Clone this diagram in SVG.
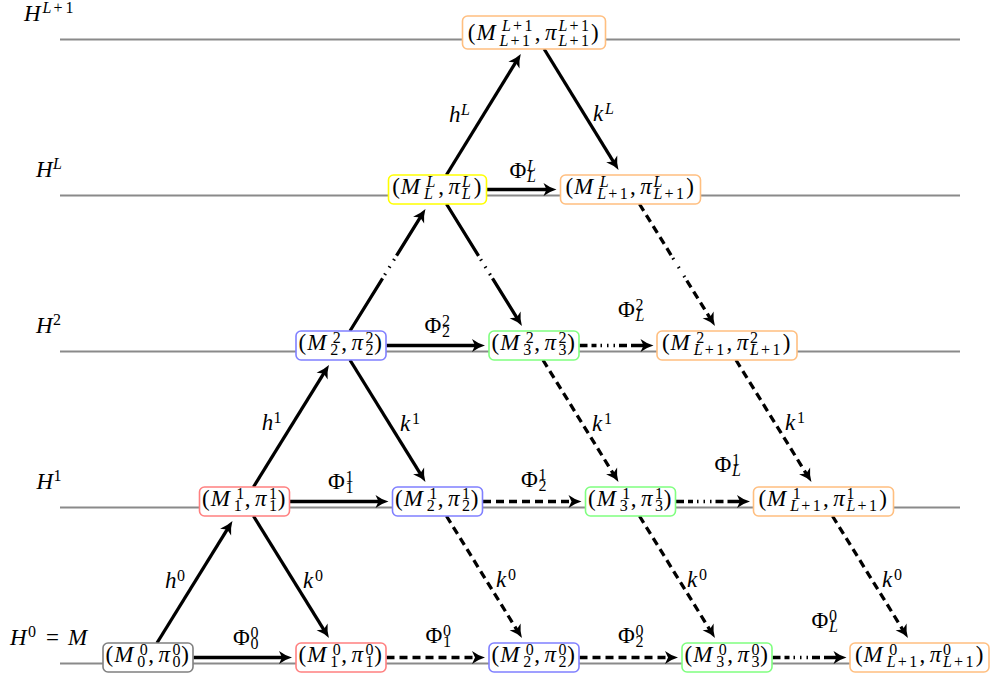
<svg xmlns="http://www.w3.org/2000/svg" width="990" height="682" viewBox="0 0 990 682">
<style>
text{font-family:"Liberation Serif","Times New Roman",serif;font-size:23px;fill:#000}
.i{font-style:italic}
.s{font-size:16px}
.si{font-size:16px;font-style:italic}
.lv{stroke:#8a8a8a;stroke-width:1.8;fill:none}
.bx{fill:#fff;stroke-width:1.6}
.gy{stroke:#808080}.rd{stroke:#ff8080}.bl{stroke:#8080ff}.gr{stroke:#80ff80}.or{stroke:#ffbf80}.ye{stroke:#ffff00}
.a{stroke:#000;stroke-width:3.3;fill:none;marker-end:url(#ah)}
.d{stroke-dasharray:8 5}
.c{stroke-dasharray:8 4 5 4 1.5 5 1.5 5 1.5 4 8 4 40}
</style>
<defs>
<marker id="ah" viewBox="-9 -8 18 16" refX="0" refY="0" markerWidth="18" markerHeight="16" markerUnits="userSpaceOnUse" orient="auto">
<path d="M6,0 Q-1,-2 -7,-6.5 L-4,0 L-7,6.5 Q-1,2 6,0 Z" fill="#000"/>
</marker>
</defs>
<g id="levels">
<line class="lv" x1="60" y1="39.5" x2="960" y2="39.5"/>
<line class="lv" x1="60" y1="195.5" x2="960" y2="195.5"/>
<line class="lv" x1="60" y1="351.5" x2="960" y2="351.5"/>
<line class="lv" x1="60" y1="507.5" x2="960" y2="507.5"/>
<line class="lv" x1="60" y1="663.5" x2="960" y2="663.5"/>
<text><tspan class="i" x="24" y="20.5">H</tspan><tspan class="si" x="42.5" y="12.5">L</tspan><tspan class="s" x="53.5" y="12.5">+</tspan><tspan class="s" x="65.5" y="12.5">1</tspan></text>
<text><tspan class="i" x="36" y="176.5">H</tspan><tspan class="si" x="53" y="169">L</tspan></text>
<text><tspan class="i" x="36" y="332.5">H</tspan><tspan class="s" x="53" y="325">2</tspan></text>
<text><tspan class="i" x="36.5" y="488.5">H</tspan><tspan class="s" x="53.5" y="481">1</tspan></text>
<text><tspan class="i" x="10" y="644.5">H</tspan><tspan class="s" x="28" y="637">0</tspan><tspan x="46" y="644.5">=</tspan><tspan class="i" x="68" y="644.5">M</tspan></text>
</g>
<g id="connectors">
<path class="a" d="M156.97,643 L229.28,526.10"/>
<path class="a" d="M253.47,516 L325.78,632.90"/>
<path class="a" d="M253.47,487 L325.78,370.10"/>
<path class="a" d="M349.97,360 L422.28,476.90"/>
<path class="a" d="M446.41,175 L517.64,59.11"/>
<path class="a" d="M544.14,49 L615.38,164.89"/>
<path class="a" d="M193.5,657.5 H286"/>
<path class="a" d="M290,501.5 H382.5"/>
<path class="a" d="M386.5,345.5 H479"/>
<path class="a" d="M487,189.5 H550.5"/>
<path class="a" style="stroke-dasharray:62 4 1.5 7 1.5 7 1.5 4 200" d="M349.97,331 L422.28,214.10"/>
<path class="a" style="stroke-dasharray:61 4 1.5 7 1.5 7 1.5 4 200" d="M446.47,204 L518.78,320.90"/>
<path class="a d" d="M386.5,657.5 H479"/>
<path class="a d" d="M579.5,657.5 H672"/>
<path class="a d" d="M483,501.5 H575.5"/>
<path class="a d" d="M446.47,516 L518.78,632.90"/>
<path class="a d" d="M639.47,516 L711.78,632.90"/>
<path class="a d" d="M832.47,516 L904.78,632.90"/>
<path class="a d" d="M542.97,360 L615.28,476.90"/>
<path class="a d" d="M735.97,360 L808.28,476.90"/>
<path class="a c" d="M579.5,345.5 H647.5"/>
<path class="a c" d="M676,501.5 H744"/>
<path class="a c" d="M772.5,657.5 H840.5"/>
<path class="a" style="stroke-dasharray:8 5 8 5 8 5 8 5 8 3.5 1.5 9 1.5 9 1.5 4 8 5 8 5 8 5 40" d="M639.47,204 L711.78,320.90"/>
<text><tspan class="i" x="165" y="588">h</tspan><tspan class="s" x="177" y="581">0</tspan></text>
<text><tspan class="i" x="303" y="588">k</tspan><tspan class="s" x="315" y="581">0</tspan></text>
<text><tspan class="i" x="261.7" y="430">h</tspan><tspan class="s" x="273.5" y="423">1</tspan></text>
<text><tspan class="i" x="400" y="431">k</tspan><tspan class="s" x="412" y="424">1</tspan></text>
<text><tspan class="i" x="449" y="122">h</tspan><tspan class="si" x="461" y="115">L</tspan></text>
<text><tspan class="i" x="593" y="121">k</tspan><tspan class="si" x="605" y="114">L</tspan></text>
<text><tspan class="i" x="496" y="587">k</tspan><tspan class="s" x="508" y="580">0</tspan></text>
<text><tspan class="i" x="687" y="587">k</tspan><tspan class="s" x="699" y="580">0</tspan></text>
<text><tspan class="i" x="882" y="587">k</tspan><tspan class="s" x="894" y="580">0</tspan></text>
<text><tspan class="i" x="592" y="431">k</tspan><tspan class="s" x="604" y="424">1</tspan></text>
<text><tspan class="i" x="785" y="430">k</tspan><tspan class="s" x="797" y="423">1</tspan></text>
<text><tspan x="233" y="645">Φ</tspan><tspan class="s" x="250.5" y="638">0</tspan><tspan class="s" x="250.5" y="649">0</tspan></text>
<text><tspan x="328" y="489">Φ</tspan><tspan class="s" x="345.5" y="482">1</tspan><tspan class="s" x="345.5" y="493">1</tspan></text>
<text><tspan x="424.5" y="333">Φ</tspan><tspan class="s" x="442" y="326">2</tspan><tspan class="s" x="442" y="337">2</tspan></text>
<text><tspan x="509.5" y="178">Φ</tspan><tspan class="si" x="527" y="171">L</tspan><tspan class="si" x="527" y="182">L</tspan></text>
<text><tspan x="425.5" y="643">Φ</tspan><tspan class="s" x="443" y="636">0</tspan><tspan class="s" x="443" y="647">1</tspan></text>
<text><tspan x="618" y="643">Φ</tspan><tspan class="s" x="635.5" y="636">0</tspan><tspan class="s" x="635.5" y="647">2</tspan></text>
<text><tspan x="521" y="487">Φ</tspan><tspan class="s" x="538.5" y="480">1</tspan><tspan class="s" x="538.5" y="491">2</tspan></text>
<text><tspan x="618" y="317">Φ</tspan><tspan class="s" x="635.5" y="310">2</tspan><tspan class="si" x="635.5" y="321">L</tspan></text>
<text><tspan x="714.5" y="472">Φ</tspan><tspan class="s" x="732" y="465">1</tspan><tspan class="si" x="732" y="476">L</tspan></text>
<text><tspan x="811.5" y="628">Φ</tspan><tspan class="s" x="829" y="621">0</tspan><tspan class="si" x="829" y="632">L</tspan></text>
</g>
<g id="n00"><rect class="bx gy" x="103" y="643" width="90" height="29" rx="5"/>
<text><tspan x="105.6" y="662">(</tspan><tspan class="i" x="114.2" y="662">M</tspan><tspan class="s" x="139.8" y="655">0</tspan><tspan class="s" x="137.3" y="666.5">0</tspan><tspan x="148.2" y="662">,</tspan><tspan class="i" x="158.6" y="662">π</tspan><tspan class="s" x="172.4" y="655">0</tspan><tspan class="s" x="172.4" y="666.5">0</tspan><tspan x="181.3" y="662">)</tspan></text></g>
<g id="n10"><rect class="bx rd" x="296" y="643" width="90" height="29" rx="5"/>
<text><tspan x="298.6" y="662">(</tspan><tspan class="i" x="307.2" y="662">M</tspan><tspan class="s" x="332.8" y="655">0</tspan><tspan class="s" x="330.3" y="666.5">1</tspan><tspan x="341.2" y="662">,</tspan><tspan class="i" x="351.6" y="662">π</tspan><tspan class="s" x="365.4" y="655">0</tspan><tspan class="s" x="365.4" y="666.5">1</tspan><tspan x="374.3" y="662">)</tspan></text></g>
<g id="n20"><rect class="bx bl" x="489" y="643" width="90" height="29" rx="5"/>
<text><tspan x="491.6" y="662">(</tspan><tspan class="i" x="500.2" y="662">M</tspan><tspan class="s" x="525.8" y="655">0</tspan><tspan class="s" x="523.3" y="666.5">2</tspan><tspan x="534.2" y="662">,</tspan><tspan class="i" x="544.6" y="662">π</tspan><tspan class="s" x="558.4" y="655">0</tspan><tspan class="s" x="558.4" y="666.5">2</tspan><tspan x="567.3" y="662">)</tspan></text></g>
<g id="n30"><rect class="bx gr" x="682" y="643" width="90" height="29" rx="5"/>
<text><tspan x="684.6" y="662">(</tspan><tspan class="i" x="693.2" y="662">M</tspan><tspan class="s" x="718.8" y="655">0</tspan><tspan class="s" x="716.3" y="666.5">3</tspan><tspan x="727.2" y="662">,</tspan><tspan class="i" x="737.6" y="662">π</tspan><tspan class="s" x="751.4" y="655">0</tspan><tspan class="s" x="751.4" y="666.5">3</tspan><tspan x="760.3" y="662">)</tspan></text></g>
<g id="nL0"><rect class="bx or" x="850" y="643" width="139" height="29" rx="5"/>
<text><tspan x="855" y="662">(</tspan><tspan class="i" x="863.6" y="662">M</tspan><tspan class="s" x="889.2" y="655">0</tspan><tspan class="si" x="886.7" y="666.5">L</tspan><tspan class="s" x="897.7" y="666.5">+</tspan><tspan class="s" x="909.2" y="666.5">1</tspan><tspan x="919.4" y="662">,</tspan><tspan class="i" x="929.8" y="662">π</tspan><tspan class="s" x="943.1" y="655">0</tspan><tspan class="si" x="943.1" y="666.5">L</tspan><tspan class="s" x="954.1" y="666.5">+</tspan><tspan class="s" x="965.6" y="666.5">1</tspan><tspan x="975.8" y="662">)</tspan></text></g>
<g id="n11"><rect class="bx rd" x="199.5" y="487" width="90" height="29" rx="5"/>
<text><tspan x="202.1" y="506">(</tspan><tspan class="i" x="210.7" y="506">M</tspan><tspan class="s" x="236.3" y="499">1</tspan><tspan class="s" x="233.8" y="510.5">1</tspan><tspan x="244.7" y="506">,</tspan><tspan class="i" x="255.1" y="506">π</tspan><tspan class="s" x="268.9" y="499">1</tspan><tspan class="s" x="268.9" y="510.5">1</tspan><tspan x="277.8" y="506">)</tspan></text></g>
<g id="n21"><rect class="bx bl" x="392.5" y="487" width="90" height="29" rx="5"/>
<text><tspan x="395.1" y="506">(</tspan><tspan class="i" x="403.7" y="506">M</tspan><tspan class="s" x="429.3" y="499">1</tspan><tspan class="s" x="426.8" y="510.5">2</tspan><tspan x="437.7" y="506">,</tspan><tspan class="i" x="448.1" y="506">π</tspan><tspan class="s" x="461.9" y="499">1</tspan><tspan class="s" x="461.9" y="510.5">2</tspan><tspan x="470.8" y="506">)</tspan></text></g>
<g id="n31"><rect class="bx gr" x="585.5" y="487" width="90" height="29" rx="5"/>
<text><tspan x="588.1" y="506">(</tspan><tspan class="i" x="596.7" y="506">M</tspan><tspan class="s" x="622.3" y="499">1</tspan><tspan class="s" x="619.8" y="510.5">3</tspan><tspan x="630.7" y="506">,</tspan><tspan class="i" x="641.1" y="506">π</tspan><tspan class="s" x="654.9" y="499">1</tspan><tspan class="s" x="654.9" y="510.5">3</tspan><tspan x="663.8" y="506">)</tspan></text></g>
<g id="nL1"><rect class="bx or" x="753.5" y="487" width="140" height="29" rx="5"/>
<text><tspan x="758.5" y="506">(</tspan><tspan class="i" x="767.1" y="506">M</tspan><tspan class="s" x="792.7" y="499">1</tspan><tspan class="si" x="790.2" y="510.5">L</tspan><tspan class="s" x="801.2" y="510.5">+</tspan><tspan class="s" x="812.7" y="510.5">1</tspan><tspan x="822.9" y="506">,</tspan><tspan class="i" x="833.3" y="506">π</tspan><tspan class="s" x="846.6" y="499">1</tspan><tspan class="si" x="846.6" y="510.5">L</tspan><tspan class="s" x="857.6" y="510.5">+</tspan><tspan class="s" x="869.1" y="510.5">1</tspan><tspan x="879.3" y="506">)</tspan></text></g>
<g id="n22"><rect class="bx bl" x="296" y="331" width="90" height="29" rx="5"/>
<text><tspan x="298.6" y="350">(</tspan><tspan class="i" x="307.2" y="350">M</tspan><tspan class="s" x="332.8" y="343">2</tspan><tspan class="s" x="330.3" y="354.5">2</tspan><tspan x="341.2" y="350">,</tspan><tspan class="i" x="351.6" y="350">π</tspan><tspan class="s" x="365.4" y="343">2</tspan><tspan class="s" x="365.4" y="354.5">2</tspan><tspan x="374.3" y="350">)</tspan></text></g>
<g id="n32"><rect class="bx gr" x="489" y="331" width="90" height="29" rx="5"/>
<text><tspan x="491.6" y="350">(</tspan><tspan class="i" x="500.2" y="350">M</tspan><tspan class="s" x="525.8" y="343">2</tspan><tspan class="s" x="523.3" y="354.5">3</tspan><tspan x="534.2" y="350">,</tspan><tspan class="i" x="544.6" y="350">π</tspan><tspan class="s" x="558.4" y="343">2</tspan><tspan class="s" x="558.4" y="354.5">3</tspan><tspan x="567.3" y="350">)</tspan></text></g>
<g id="nL2"><rect class="bx or" x="657" y="331" width="140" height="29" rx="5"/>
<text><tspan x="662" y="350">(</tspan><tspan class="i" x="670.6" y="350">M</tspan><tspan class="s" x="696.2" y="343">2</tspan><tspan class="si" x="693.7" y="354.5">L</tspan><tspan class="s" x="704.7" y="354.5">+</tspan><tspan class="s" x="716.2" y="354.5">1</tspan><tspan x="726.4" y="350">,</tspan><tspan class="i" x="736.8" y="350">π</tspan><tspan class="s" x="750.1" y="343">2</tspan><tspan class="si" x="750.1" y="354.5">L</tspan><tspan class="s" x="761.1" y="354.5">+</tspan><tspan class="s" x="772.6" y="354.5">1</tspan><tspan x="782.8" y="350">)</tspan></text></g>
<g id="nLL"><rect class="bx ye" x="388.5" y="175" width="98" height="29" rx="5"/>
<text><tspan x="392.2" y="194">(</tspan><tspan class="i" x="400.8" y="194">M</tspan><tspan class="si" x="426.4" y="187">L</tspan><tspan class="si" x="423.9" y="198.5">L</tspan><tspan x="438.2" y="194">,</tspan><tspan class="i" x="448.6" y="194">π</tspan><tspan class="si" x="461.9" y="187">L</tspan><tspan class="si" x="461.9" y="198.5">L</tspan><tspan x="473.7" y="194">)</tspan></text></g>
<g id="nLpL"><rect class="bx or" x="560.5" y="175" width="140" height="29" rx="5"/>
<text><tspan x="565.5" y="194">(</tspan><tspan class="i" x="574.1" y="194">M</tspan><tspan class="si" x="599.7" y="187">L</tspan><tspan class="si" x="597.2" y="198.5">L</tspan><tspan class="s" x="608.2" y="198.5">+</tspan><tspan class="s" x="619.7" y="198.5">1</tspan><tspan x="629.9" y="194">,</tspan><tspan class="i" x="640.3" y="194">π</tspan><tspan class="si" x="653.6" y="187">L</tspan><tspan class="si" x="653.6" y="198.5">L</tspan><tspan class="s" x="664.6" y="198.5">+</tspan><tspan class="s" x="676.1" y="198.5">1</tspan><tspan x="686.3" y="194">)</tspan></text></g>
<g id="nTop"><rect class="bx or" x="462.5" y="16" width="143" height="33" rx="5"/>
<text><tspan x="467.8" y="40">(</tspan><tspan class="i" x="476.4" y="40">M</tspan><tspan class="si" x="502" y="30.5">L</tspan><tspan class="s" x="513" y="30.5">+</tspan><tspan class="s" x="524.5" y="30.5">1</tspan><tspan class="si" x="499.5" y="45.5">L</tspan><tspan class="s" x="510.5" y="45.5">+</tspan><tspan class="s" x="522" y="45.5">1</tspan><tspan x="534.7" y="40">,</tspan><tspan class="i" x="545.1" y="40">π</tspan><tspan class="si" x="558.4" y="30.5">L</tspan><tspan class="s" x="569.4" y="30.5">+</tspan><tspan class="s" x="580.9" y="30.5">1</tspan><tspan class="si" x="558.4" y="45.5">L</tspan><tspan class="s" x="569.4" y="45.5">+</tspan><tspan class="s" x="580.9" y="45.5">1</tspan><tspan x="591.1" y="40">)</tspan></text></g>
</svg>
